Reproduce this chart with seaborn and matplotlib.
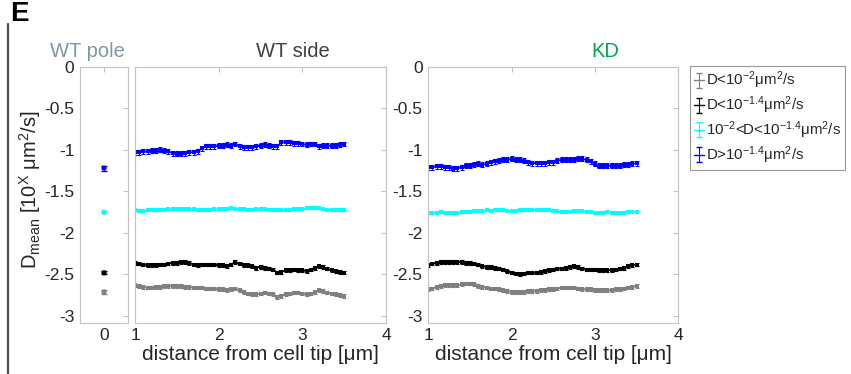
import numpy as np
import matplotlib
matplotlib.use("Agg")
import matplotlib.pyplot as plt
from matplotlib.lines import Line2D
import seaborn as sns

# sampling grid along the cell (um)
distance = [1.00, 1.05, 1.10, 1.15, 1.20, 1.25, 1.30, 1.35, 1.40, 1.45,
            1.50, 1.55, 1.60, 1.65, 1.70, 1.75, 1.80, 1.85, 1.90, 1.95,
            2.00, 2.05, 2.10, 2.15, 2.20, 2.25, 2.30, 2.35, 2.40, 2.45,
            2.50, 2.55, 2.60, 2.65, 2.70, 2.75, 2.80, 2.85, 2.90, 2.95,
            3.00, 3.05, 3.10, 3.15, 3.20, 3.25, 3.30, 3.35, 3.40, 3.45, 3.50]

# WT side
wt_blue = [-1.03, -1.03, -1.02, -1.02, -1.01, -1.01, -1.00, -1.01, -1.02, -1.04,
           -1.05, -1.05, -1.04, -1.03, -1.03, -1.02, -0.98, -0.96, -0.96, -0.96,
           -0.95, -0.95, -0.94, -0.95, -0.93, -0.96, -0.97, -0.97, -0.97, -0.96,
           -0.95, -0.94, -0.95, -0.96, -0.96, -0.91, -0.91, -0.91, -0.92, -0.92,
           -0.93, -0.94, -0.93, -0.93, -0.96, -0.95, -0.95, -0.95, -0.95, -0.94, -0.93]
wt_cyan = [-1.73, -1.735, -1.735, -1.73, -1.73, -1.725, -1.72, -1.72, -1.715, -1.715,
           -1.71, -1.71, -1.71, -1.715, -1.715, -1.72, -1.72, -1.72, -1.72, -1.715,
           -1.715, -1.715, -1.71, -1.705, -1.71, -1.71, -1.715, -1.72, -1.72, -1.715,
           -1.71, -1.715, -1.72, -1.725, -1.73, -1.725, -1.72, -1.72, -1.715, -1.71,
           -1.71, -1.705, -1.70, -1.70, -1.705, -1.71, -1.72, -1.73, -1.73, -1.73, -1.73]
wt_black = [-2.36, -2.37, -2.38, -2.39, -2.39, -2.39, -2.38, -2.38, -2.37, -2.36,
            -2.36, -2.35, -2.35, -2.36, -2.38, -2.39, -2.38, -2.38, -2.38, -2.38,
            -2.39, -2.39, -2.40, -2.38, -2.35, -2.37, -2.39, -2.39, -2.40, -2.42,
            -2.41, -2.42, -2.43, -2.44, -2.48, -2.47, -2.45, -2.45, -2.44, -2.45,
            -2.45, -2.46, -2.44, -2.42, -2.40, -2.41, -2.43, -2.45, -2.46, -2.47, -2.48]
wt_gray = [-2.63, -2.64, -2.65, -2.66, -2.66, -2.65, -2.65, -2.64, -2.64, -2.64,
           -2.64, -2.64, -2.65, -2.65, -2.66, -2.66, -2.66, -2.67, -2.67, -2.67,
           -2.68, -2.68, -2.69, -2.68, -2.67, -2.69, -2.71, -2.73, -2.74, -2.74,
           -2.73, -2.72, -2.73, -2.74, -2.77, -2.76, -2.74, -2.73, -2.72, -2.72,
           -2.73, -2.74, -2.73, -2.71, -2.69, -2.70, -2.72, -2.73, -2.74, -2.75, -2.76]

# KD
kd_blue = [-1.21, -1.21, -1.20, -1.20, -1.21, -1.21, -1.23, -1.22, -1.21, -1.19,
           -1.19, -1.18, -1.17, -1.18, -1.17, -1.15, -1.14, -1.13, -1.12, -1.12,
           -1.11, -1.12, -1.12, -1.13, -1.15, -1.16, -1.16, -1.16, -1.16, -1.15,
           -1.15, -1.13, -1.12, -1.12, -1.12, -1.12, -1.11, -1.11, -1.12, -1.14,
           -1.17, -1.19, -1.19, -1.19, -1.19, -1.19, -1.19, -1.18, -1.18, -1.17, -1.16]
kd_cyan = [-1.76, -1.76, -1.755, -1.75, -1.755, -1.76, -1.76, -1.755, -1.75, -1.745,
           -1.745, -1.74, -1.74, -1.735, -1.73, -1.735, -1.73, -1.725, -1.73, -1.735,
           -1.74, -1.735, -1.73, -1.73, -1.725, -1.72, -1.725, -1.725, -1.73, -1.73,
           -1.735, -1.74, -1.745, -1.745, -1.745, -1.74, -1.74, -1.74, -1.745, -1.75,
           -1.755, -1.755, -1.755, -1.75, -1.755, -1.755, -1.76, -1.755, -1.75, -1.745, -1.745]
kd_black = [-2.39, -2.37, -2.36, -2.35, -2.35, -2.35, -2.35, -2.35, -2.35, -2.36,
            -2.36, -2.37, -2.38, -2.40, -2.41, -2.41, -2.42, -2.43, -2.44, -2.46,
            -2.48, -2.49, -2.50, -2.49, -2.48, -2.48, -2.48, -2.47, -2.46, -2.45,
            -2.44, -2.43, -2.43, -2.42, -2.41, -2.40, -2.41, -2.43, -2.44, -2.44,
            -2.44, -2.45, -2.45, -2.45, -2.45, -2.44, -2.43, -2.42, -2.40, -2.39, -2.38]
kd_gray = [-2.68, -2.67, -2.65, -2.64, -2.63, -2.63, -2.63, -2.63, -2.62, -2.61,
           -2.61, -2.62, -2.64, -2.65, -2.66, -2.67, -2.67, -2.68, -2.69, -2.70,
           -2.71, -2.71, -2.71, -2.71, -2.70, -2.70, -2.70, -2.69, -2.69, -2.68,
           -2.68, -2.67, -2.66, -2.66, -2.66, -2.66, -2.67, -2.68, -2.68, -2.68,
           -2.69, -2.69, -2.69, -2.69, -2.69, -2.68, -2.68, -2.67, -2.66, -2.65, -2.64]

# WT pole (single position)
pole_x = [0]
pole_gray = [-2.71]
pole_black = [-2.48]
pole_cyan = [-1.75]
pole_blue = [-1.22]

# error bar half-heights per class
err_gray = 0.02
err_black = 0.02
err_cyan = 0.008
err_blue = 0.03

labels = [r'D<10$^{-2}$$\mu$m$^2$/s',
          r'D<10$^{-1.4}$$\mu$m$^2$/s',
          r'10$^{-2}$<D<10$^{-1.4}$$\mu$m$^2$/s',
          r'D>10$^{-1.4}$$\mu$m$^2$/s']
colors = ['#808080', '#000000', '#00ffff', '#0000ff']
yticks = [0, -0.5, -1, -1.5, -2, -2.5, -3]
ytick_labels = ['0', '-0.5', '-1', '-1.5', '-2', '-2.5', '-3']

sns.set_theme(style="white")
plt.rcParams['font.family'] = ['Liberation Sans', 'DejaVu Sans']
plt.rcParams['axes.unicode_minus'] = False
plt.rcParams['mathtext.fontset'] = 'custom'
plt.rcParams['mathtext.rm'] = 'Liberation Sans'
plt.rcParams['mathtext.it'] = 'Liberation Sans:italic'
plt.rcParams['mathtext.default'] = 'regular'

fig = plt.figure(figsize=(8.51, 3.74), dpi=100)
W, H = 851, 374


def box(l, t, r, b):
    return [l / W, 1 - b / H, (r - l) / W, (b - t) / H]


ax_pole = fig.add_axes(box(80, 66.7, 128, 322.7))
ax_side = fig.add_axes(box(135, 66.7, 386, 322.7))
ax_kd = fig.add_axes(box(428.3, 66.7, 678.3, 322.7))

spine_c = '#c4c4c4'
for ax in [ax_pole, ax_side, ax_kd]:
    ax.set_ylim(-3.08, 0)
    ax.set_yticks(yticks)
    ax.set_yticklabels(ytick_labels)
    ax.tick_params(direction='in', top=True, right=True, length=3.5,
                   width=0.8, color=spine_c, labelcolor='#262626',
                   labelsize=12.5, pad=4)
    for s in ax.spines.values():
        s.set_color(spine_c)
        s.set_linewidth(0.8)

# pole
handles = []
for vals, e, c in zip([pole_gray, pole_black, pole_cyan, pole_blue],
                      [err_gray, err_black, err_cyan, err_blue], colors):
    sns.scatterplot(x=pole_x, y=vals, ax=ax_pole, color=c, s=14,
                    edgecolor='none', zorder=3)
    h = ax_pole.errorbar(pole_x, vals, yerr=e, fmt='-', color=c, ecolor=c,
                         linewidth=1.0, elinewidth=0.8, capsize=2.5)
    handles.append(h)
ax_pole.set_xlim(-1, 1)
ax_pole.set_xticks([0])
ax_pole.set_xticklabels(['0'])

# side panels
for ax, series in [(ax_side, [wt_gray, wt_black, wt_cyan, wt_blue]),
                   (ax_kd, [kd_gray, kd_black, kd_cyan, kd_blue])]:
    for vals, e, c in zip(series, [err_gray, err_black, err_cyan, err_blue], colors):
        sns.lineplot(x=distance, y=vals, ax=ax, color=c, linewidth=1.3,
                     marker='s', markersize=2.2, markeredgewidth=0,
                     errorbar=None)
        ax.errorbar(distance, vals, yerr=e, fmt='none', ecolor=c,
                    elinewidth=0.8, capsize=1.6, capthick=0.8)
    ax.set_xlim(1, 4)
    ax.set_xticks([1, 2, 3, 4])
    ax.set_xticklabels(['1', '2', '3', '4'])
    ax.set_xlabel('distance from cell tip [μm]', fontsize=15,
                  color='#262626', labelpad=1)
    ax.set_ylabel('')

ax_side.set_yticklabels([])

# titles
fig.text(87 / W, 1 - 57 / H, 'WT pole', color='#7f98a4', fontsize=14.5,
         ha='center', va='baseline')
fig.text(293 / W, 1 - 57 / H, 'WT side', color='#404040', fontsize=14.5,
         ha='center', va='baseline')
fig.text(605 / W, 1 - 57 / H, 'KD', color='#00a650', fontsize=14.5,
         ha='center', va='baseline')

# y label
fig.text(30 / W, 1 - 190 / H, r'D$_{\rm mean}$ [10$^{\rm X}$ μm$^{2}$/s]',
         rotation=90, ha='center', va='center', fontsize=14.5, color='#262626')

# panel letter and left rule
fig.text(10 / W, 1 - 21 / H, 'E', fontsize=20, fontweight='bold',
         ha='left', va='baseline', color='black')
fig.add_artist(Line2D([8 / W, 8 / W], [0, 1 - 24 / H], color='#505050',
                      linewidth=1.6))

leg = fig.legend(handles, labels, loc='upper left',
                 bbox_to_anchor=(690 / W, 1 - 66 / H), fontsize=10.8,
                 frameon=True, fancybox=False, edgecolor='#9a9a9a',
                 framealpha=1, handlelength=0.7, handletextpad=0.1,
                 borderpad=0.25, labelspacing=0.22, borderaxespad=0)
leg.get_frame().set_linewidth(0.8)

plt.savefig('out.png', dpi=100)
